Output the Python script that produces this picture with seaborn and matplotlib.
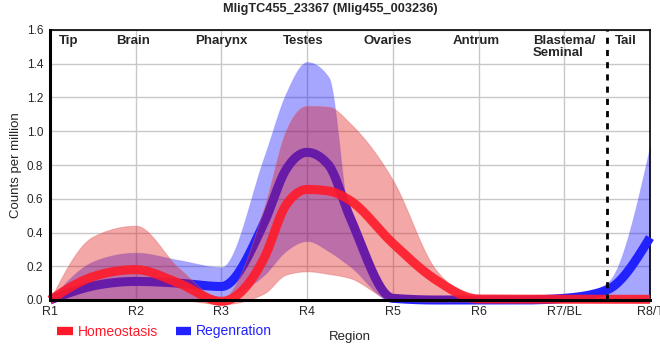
import numpy as np
import seaborn as sns
import matplotlib.pyplot as plt
from matplotlib.lines import Line2D

# Regions on the x axis (values read at each region, half way between, and near the R4 peak)
regions = ['R1', 'R2', 'R3', 'R4', 'R5', 'R6', 'R7/BL', 'R8/T']
steps = [0, 0.5, 1, 1.5, 2, 2.5, 2.75, 3, 3.25, 3.5, 4, 4.5, 5, 5.5, 6, 6.5, 7]
tissues = ['Tip', 'Brain', 'Pharynx', 'Testes', 'Ovaries', 'Antrum', 'Blastema/\nSeminal', 'Tail']
tissue_pos = [0.22, 0.97, 2.0, 2.95, 3.94, 4.97, 6.0, 6.72]

# Homeostasis (mean and band)
homeo_mean = [0.0, 0.138, 0.18, 0.10, -0.008, 0.25, 0.56, 0.655, 0.646, 0.59, 0.336, 0.12, 0.006, 0.005, 0.005, 0.004, 0.004]
homeo_high = [0.0, 0.375, 0.44, 0.19, 0.01, 0.55, 1.0, 1.15, 1.145, 1.047, 0.71, 0.18, 0.02, 0.01, 0.01, 0.01, 0.01]
homeo_low = [0.0, 0.0, 0.0, 0.0, -0.025, 0.04, 0.15, 0.17, 0.155, 0.13, 0.0, -0.01, -0.01, -0.01, -0.01, -0.01, -0.01]

# Regenration (mean and band)
regen_mean = [0.0, 0.083, 0.11, 0.10, 0.08, 0.46, 0.77, 0.875, 0.80, 0.49, 0.01, 0.0, 0.0, 0.0, 0.01, 0.06, 0.37]
regen_high = [0.0, 0.227, 0.28, 0.237, 0.195, 0.85, 1.22, 1.41, 1.32, 0.45, 0.02, 0.005, 0.005, 0.005, 0.01, 0.1, 0.91]
regen_low = [0.0, 0.0, 0.0, 0.0, 0.02, 0.15, 0.29, 0.35, 0.29, 0.2, -0.01, -0.01, -0.01, -0.01, 0.0, 0.0, 0.0]


# monotone cubic curve through the points (like d3 curveMonotoneX)
def smooth(xs, ys, n=40):
    xs = np.asarray(xs, dtype=float)
    ys = np.asarray(ys, dtype=float)
    h = np.diff(xs)
    d = np.diff(ys) / h
    t = np.zeros(len(ys))
    for i in range(1, len(ys) - 1):
        s0, s1 = d[i - 1], d[i]
        p = (s0 * h[i] + s1 * h[i - 1]) / (h[i - 1] + h[i])
        t[i] = (np.sign(s0) + np.sign(s1)) * min(abs(s0), abs(s1), 0.5 * abs(p))
    t[0] = (3 * d[0] - t[1]) / 2
    t[-1] = (3 * d[-1] - t[-2]) / 2
    px, py = [], []
    for i in range(len(ys) - 1):
        u = np.linspace(0, 1, n, endpoint=(i == len(ys) - 2))
        h00 = 2 * u**3 - 3 * u**2 + 1
        h10 = u**3 - 2 * u**2 + u
        h01 = -2 * u**3 + 3 * u**2
        h11 = u**3 - u**2
        px.append(xs[i] + u * h[i])
        py.append(h00 * ys[i] + h10 * h[i] * t[i] + h01 * ys[i + 1] + h11 * h[i] * t[i + 1])
    return np.concatenate(px), np.concatenate(py)


sns.set_theme(style="whitegrid")
plt.rcParams['font.family'] = ['Liberation Sans', 'DejaVu Sans']

fig = plt.figure(figsize=(6.6, 3.6), dpi=100)
ax = fig.add_axes([50 / 660, 60 / 360, 600 / 660, 270 / 360])

red = '#ff1a2a'
blue = '#2222ff'

# blue band + line first, then the red band covers it, red line on top
x, lo = smooth(steps, regen_low)
_, hi = smooth(steps, regen_high)
ax.fill_between(x, lo, hi, color='#0000ff', alpha=0.35, lw=0.8, edgecolor='#8080ff',
                clip_on=False, zorder=2)
xr, yr = smooth(steps, regen_mean)
sns.lineplot(x=xr, y=yr, color=blue, lw=6.5, ax=ax, sort=False, estimator=None,
             solid_capstyle='butt', clip_on=False, zorder=3)

x, lo = smooth(steps, homeo_low)
_, hi = smooth(steps, homeo_high)
ax.fill_between(x, lo, hi, color='#e01010', alpha=0.37, lw=0.8, edgecolor='#e06060',
                clip_on=False, zorder=4)
xh, yh = smooth(steps, homeo_mean)
sns.lineplot(x=xh, y=yh, color=red, lw=6.5, alpha=0.9, ax=ax, sort=False, estimator=None,
             solid_capstyle='butt', clip_on=False, zorder=5)

ax.axvline(6.5, color='black', lw=2, ls=(0, (2.2, 2.2)), zorder=6)

for lab, pos in zip(tissues, tissue_pos):
    ax.text(pos, 1.57, lab, ha='center', va='top', fontsize=9.5, fontweight='bold',
            linespacing=1.0, ma='left')

ax.set_xlim(0, 7)
ax.set_ylim(0, 1.6)
ax.set_xticks(range(len(regions)))
ax.set_xticklabels(regions, fontsize=9)
ax.set_yticks(np.arange(0, 1.61, 0.2))
ax.set_yticklabels([f'{v:.1f}' for v in np.arange(0, 1.61, 0.2)], fontsize=8.5)
ax.tick_params(axis='both', length=3, width=1, color='black', pad=1)
ax.tick_params(axis='y', pad=2)
ax.grid(color='#c8c8c8', lw=1)
ax.set_axisbelow(True)
ax.set_facecolor('white')
for side in ['top', 'right']:
    ax.spines[side].set_color('black')
    ax.spines[side].set_linewidth(1.2)
for side in ['left', 'bottom']:
    ax.spines[side].set_color('black')
    ax.spines[side].set_linewidth(2.2)
    ax.spines[side].set_zorder(7)

ax.set_xlabel('Region', fontsize=9.5, labelpad=10)
ax.set_ylabel('Counts per million', fontsize=9.5, labelpad=3)
ax.set_title('MligTC455_23367 (Mlig455_003236)', fontsize=9.2, fontweight='bold', pad=13,
             x=(330 - 50) / 600)

handles = [Line2D([], [], color=red, lw=6, solid_capstyle='butt'),
           Line2D([], [], color=blue, lw=6, solid_capstyle='butt')]
fig.legend(handles, ['Homeostasis', 'Regenration'], loc='lower left', bbox_to_anchor=(0.068, 0.025),
           ncol=2, frameon=False, fontsize=10, handlelength=1.1, handletextpad=0.35,
           columnspacing=1.3, labelcolor=[red, blue])

fig.savefig('out.png', dpi=100)
